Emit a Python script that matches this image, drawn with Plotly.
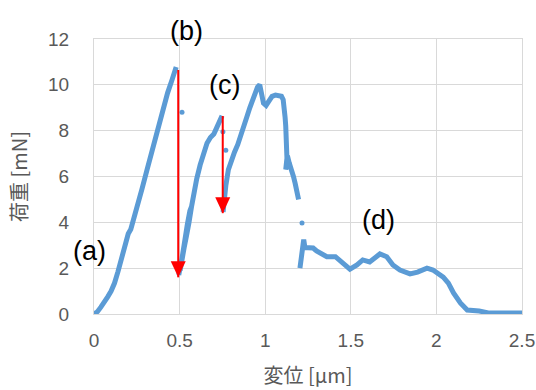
import plotly.graph_objects as go

# ---- data (displacement in µm, load in mN) ----
seg1_x = [0, 0.02, 0.04, 0.06, 0.08, 0.10, 0.12, 0.14, 0.16, 0.18, 0.20, 0.215, 0.225,
          0.25, 0.28, 0.31, 0.34, 0.37, 0.40, 0.43, 0.455, 0.47, 0.48]
seg1_y = [0, 0.1, 0.3, 0.5, 0.75, 1.0, 1.35, 1.85, 2.4, 3.0, 3.5, 3.7, 3.95,
          4.75, 5.45, 6.3, 7.15, 8.05, 8.85, 9.65, 10.2, 10.55, 10.78]

seg2_x = [0.495, 0.51, 0.525, 0.54, 0.555, 0.57, 0.56, 0.545, 0.53, 0.515, 0.503,
          0.52, 0.54, 0.56, 0.575, 0.585, 0.60, 0.62, 0.64, 0.66, 0.68, 0.70, 0.715, 0.73, 0.748]
seg2_y = [1.7, 2.2, 2.8, 3.4, 4.0, 4.7, 4.5, 3.9, 3.2, 2.5, 1.9,
          2.7, 3.5, 4.3, 4.9, 5.35, 5.9, 6.5, 7.0, 7.45, 7.7, 7.85, 8.1, 8.35, 8.65]

seg3_x = [0.754, 0.76, 0.77, 0.785, 0.80, 0.82, 0.84, 0.865, 0.88, 0.895, 0.91, 0.925,
          0.94, 0.955, 0.968, 0.978, 0.99, 1.005, 1.02, 1.04, 1.06, 1.08, 1.095, 1.105,
          1.112, 1.116, 1.12, 1.123, 1.125, 1.127, 1.12, 1.13, 1.14, 1.155, 1.165, 1.175,
          1.185, 1.195]
seg3_y = [4.45, 5.0, 5.6, 6.3, 6.7, 7.05, 7.4, 7.9, 8.3, 8.65, 9.0, 9.35,
          9.65, 9.9, 10.0, 9.6, 9.2, 9.1, 9.25, 9.5, 9.55, 9.55, 9.5, 9.35,
          9.0, 8.6, 8.2, 7.8, 7.3, 6.8, 6.3, 6.9, 6.6, 6.3, 6.0, 5.7,
          5.4, 5.0]

seg4_x = [1.203, 1.215, 1.225, 1.232, 1.25, 1.28, 1.30, 1.32, 1.36, 1.41, 1.45, 1.495,
          1.536, 1.57, 1.61, 1.645, 1.67, 1.71, 1.746, 1.787, 1.846, 1.89, 1.945, 1.98,
          2.02, 2.04, 2.07, 2.10, 2.14, 2.18, 2.25, 2.31, 2.41, 2.5]
seg4_y = [2.0, 2.6, 3.25, 2.9, 2.88, 2.88, 2.75, 2.65, 2.5, 2.5, 2.27, 1.96,
          2.14, 2.36, 2.27, 2.5, 2.62, 2.5, 2.14, 1.92, 1.75, 1.83, 2.0, 1.92,
          1.75, 1.61, 1.35, 0.92, 0.48, 0.17, 0.13, 0.04, 0.04, 0.04]

stray_x = [0.514, 0.753, 0.77, 1.215]
stray_y = [8.8, 7.95, 7.15, 3.97]

arrow_x = [0.492, 0.752]
arrow_top = [10.65, 8.64]
arrow_tip = [1.6, 4.4]

x_ticks = [0, 0.5, 1, 1.5, 2, 2.5]
x_tick_text = ["0", "0.5", "1", "1.5", "2", "2.5"]
y_ticks = [0, 2, 4, 6, 8, 10, 12]

BLUE = "#5B9BD5"
GREY = "#595959"
GRID = "#D9D9D9"

xs, ys = [], []
for sx, sy in [(seg1_x, seg1_y), (seg2_x, seg2_y), (seg3_x, seg3_y), (seg4_x, seg4_y)]:
    xs += sx + [None]
    ys += sy + [None]

fig = go.Figure()
fig.add_trace(go.Scatter(x=xs, y=ys, mode="lines", connectgaps=False,
                         line=dict(color=BLUE, width=5), hoverinfo="skip"))
fig.add_trace(go.Scatter(x=stray_x, y=stray_y, mode="markers",
                         marker=dict(color=BLUE, size=5), hoverinfo="skip"))

shapes = []
for ax_, top, tip in zip(arrow_x, arrow_top, arrow_tip):
    shapes.append(dict(type="line", xref="x", yref="y", x0=ax_, x1=ax_, y0=top, y1=tip,
                       line=dict(color="#FF0000", width=2)))
    shapes.append(dict(type="path", xref="x", yref="y", xsizemode="pixel", ysizemode="pixel",
                       xanchor=ax_, yanchor=tip, path="M -7.5,16 L 7.5,16 L 0,0 Z",
                       fillcolor="#FF0000", line=dict(color="#FF0000", width=0)))

lab_font = dict(family="Liberation Sans, Arial, sans-serif", size=27, color="black")
annotations = [
    dict(x=-0.0105, y=0.229, text="(a)"),
    dict(x=0.215, y=1.029, text="(b)"),
    dict(x=0.305, y=0.833, text="(c)"),
    dict(x=0.664, y=0.343, text="(d)"),
]
for a in annotations:
    a.update(xref="paper", yref="paper", showarrow=False, font=lab_font,
             xanchor="center", yanchor="middle")

fig.update_layout(
    width=536, height=390,
    margin=dict(l=94, r=14, t=39, b=76),
    paper_bgcolor="white", plot_bgcolor="white",
    showlegend=False,
    shapes=shapes,
    annotations=annotations,
    font=dict(family="Liberation Sans, Arial, sans-serif", color=GREY),
)
fig.update_xaxes(range=[0, 2.5], tickvals=x_ticks, ticktext=x_tick_text,
                 automargin=False,
                 showgrid=True, gridcolor=GRID, gridwidth=1,
                 showline=True, linecolor=GRID, linewidth=1, mirror=True,
                 zeroline=False, ticks="", ticklabelstandoff=9,
                 tickfont=dict(size=19, color=GREY),
                 title=dict(text="変位 [µm]", standoff=19,
                            font=dict(family="Noto Sans CJK JP", size=20, color=GREY)))
fig.update_yaxes(range=[0, 12], tickvals=y_ticks,
                 automargin=False,
                 showgrid=True, gridcolor=GRID, gridwidth=1,
                 showline=True, linecolor=GRID, linewidth=1, mirror=True,
                 zeroline=False, ticks="", ticklabelstandoff=20,
                 tickfont=dict(size=19, color=GREY),
                 title=dict(text="荷重 [mN]", standoff=15,
                            font=dict(family="Noto Sans CJK JP", size=20, color=GREY)))

fig.write_html("out.html", config={"displayModeBar": False},
               post_script="document.body.style.margin='0';document.body.style.padding='0';")
